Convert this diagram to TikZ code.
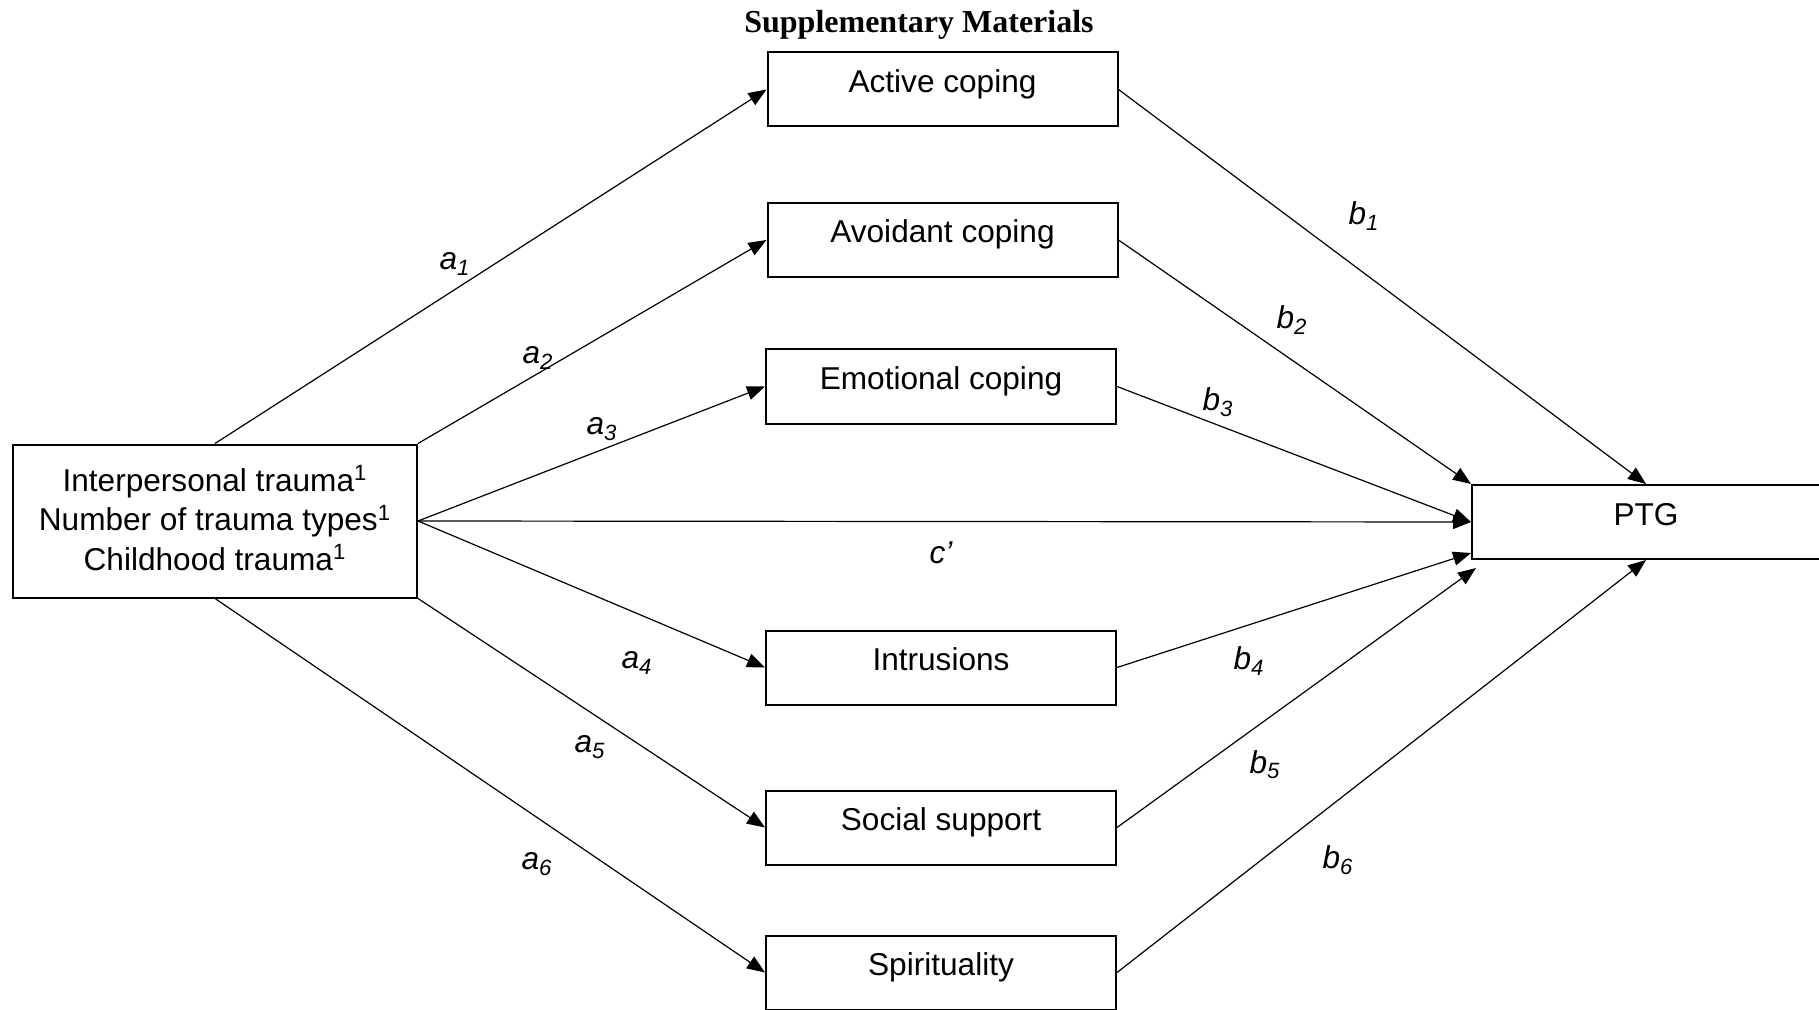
\documentclass[tikz,border=0pt]{standalone}
\usepackage{fontspec}
\setmainfont{Liberation Sans}
\newfontfamily\titlefont{Liberation Serif}
\usetikzlibrary{arrows.meta}
\begin{document}
\begin{tikzpicture}[x=0.5pt,y=-0.5pt,
  boxbase/.style={draw, line width=1pt, inner sep=0pt, font=\fontsize{15.8}{19}\selectfont},
  box/.style={boxbase, minimum width=175pt, minimum height=37pt, text height=11pt, text depth=8pt},
  conn/.style={line width=0.6pt, -{Triangle[length=9pt,width=7pt]}},
  lbl/.style={font=\fontsize{15.8}{19}\selectfont\itshape, inner sep=0pt}]
\useasboundingbox (0,0) rectangle (1819,1010);
\node[font=\titlefont\fontsize{16}{19}\selectfont\bfseries, anchor=base, inner sep=0pt] (title) at (919,33) {Supplementary Materials};

\node[boxbase, font=\fontsize{15.8}{19.7}\selectfont, minimum width=202pt, minimum height=76.5pt, align=center] (lb) at (215,521)
  {Interpersonal trauma\textsuperscript{1}\\Number of trauma types\textsuperscript{1}\\Childhood trauma\textsuperscript{1}\rule[-3pt]{0pt}{3pt}};
\node[box] (act) at (942.5,89.5) {Active coping};
\node[box] (avo) at (942.5,240) {Avoidant coping};
\node[box] (emo) at (941,386.5) {Emotional coping};
\node[box] (intr) at (941,667.5) {Intrusions};
\node[box] (soc) at (941,827.5) {Social support};
\node[box] (spi) at (941,972.5) {Spirituality};
\node[box, minimum width=174pt] (ptg) at (1646,522) {PTG};

\draw[conn] (lb.north) -- (act.west);
\draw[conn] (lb.north east) -- (avo.west);
\draw[conn] (lb.east) -- (emo.west);
\draw[conn] (lb.east) -- (ptg.west);
\draw[conn] (lb.east) -- (intr.west);
\draw[conn] (lb.south east) -- (soc.west);
\draw[conn] (lb.south) -- (spi.west);

\draw[conn] (act.east) -- (ptg.north);
\draw[conn] (avo.east) -- (ptg.north west);
\draw[conn] (emo.east) -- (ptg.west);
\draw[conn] (intr.east) -- ([yshift=3.5pt]ptg.south west);
\draw[conn] (soc.east) -- ([xshift=2.5pt,yshift=-4pt]ptg.south west);
\draw[conn] (spi.east) -- (ptg.south);

\node[lbl] (la1) at (455,264) {a\textsubscript{1}};
\node[lbl] (la2) at (538,358) {a\textsubscript{2}};
\node[lbl] (la3) at (602,429) {a\textsubscript{3}};
\node[lbl] (la4) at (637,663) {a\textsubscript{4}};
\node[lbl] (la5) at (590,747) {a\textsubscript{5}};
\node[lbl] (la6) at (537,864) {a\textsubscript{6}};
\node[lbl] (lb1) at (1364,216) {b\textsubscript{1}};
\node[lbl] (lb2) at (1292,320) {b\textsubscript{2}};
\node[lbl] (lb3) at (1218,402) {b\textsubscript{3}};
\node[lbl] (lb4) at (1249,661) {b\textsubscript{4}};
\node[lbl] (lb5) at (1265,765) {b\textsubscript{5}};
\node[lbl] (lb6) at (1338,860) {b\textsubscript{6}};
\node[lbl] (lc) at (941,553) {c’};
\end{tikzpicture}
\end{document}
